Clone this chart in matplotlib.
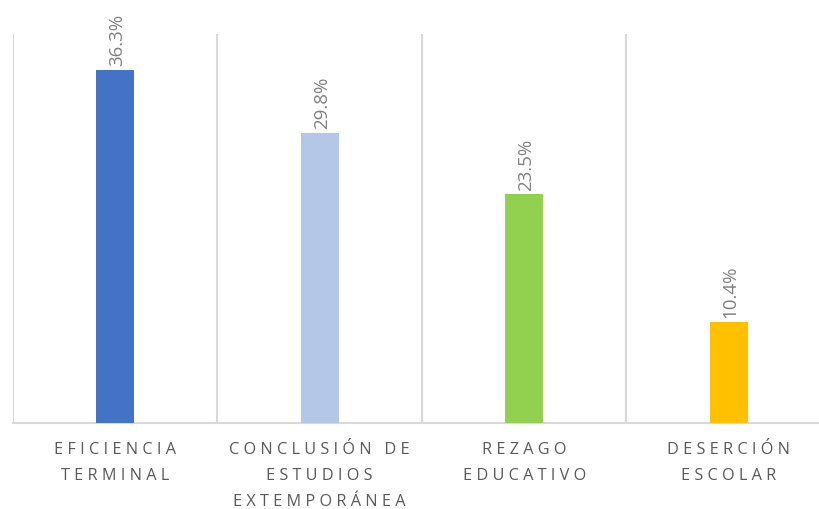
import matplotlib.pyplot as plt
import numpy as np

categories = ["EFICIENCIA\nTERMINAL", "CONCLUSIÓN DE\nESTUDIOS\nEXTEMPORÁNEA",
              "REZAGO\nEDUCATIVO", "DESERCIÓN\nESCOLAR"]
values = [36.3, 29.8, 23.5, 10.4]
colors = ["#4472c4", "#b4c7e7", "#92d050", "#ffc000"]


def spaced(label):
    # emulate the wide letter spacing of the original labels
    lines = []
    for line in label.split("\n"):
        words = [" ".join(w) for w in line.split(" ")]
        lines.append("   ".join(words))
    return "\n".join(lines)


plt.rcParams['font.family'] = ['Open Sans', 'DejaVu Sans']

fig = plt.figure(figsize=(8.2, 5.1), dpi=100)
ax = fig.add_axes([13 / 820, 86 / 510, 818 / 820, 389 / 510])

x = np.arange(len(categories))
ax.bar(x, values, width=0.186, color=colors, zorder=3)

for xi, v in zip(x, values):
    ax.text(xi + 0.01, v + 0.5, f"{v:.1f}%", rotation=90, ha="center", va="bottom",
            fontsize=13.5, color="#808080")

ax.set_xlim(-0.5, 3.5)
ax.set_ylim(0, 40)
ax.set_xticks(x)
ax.set_xticklabels([spaced(c) for c in categories], fontsize=11.7, color="#595959",
                   linespacing=1.85)
ax.set_xticks(np.arange(-0.5, 3.5, 1), minor=True)
ax.tick_params(axis="x", which="both", length=0, pad=13)
ax.set_yticks([])
ax.grid(axis="x", which="minor", color="#d9d9d9", linewidth=1.5, zorder=0)

for s in ["top", "right", "left"]:
    ax.spines[s].set_visible(False)
ax.spines["bottom"].set_color("#d9d9d9")
ax.spines["bottom"].set_linewidth(1.5)

fig.savefig("out.png", dpi=100)
